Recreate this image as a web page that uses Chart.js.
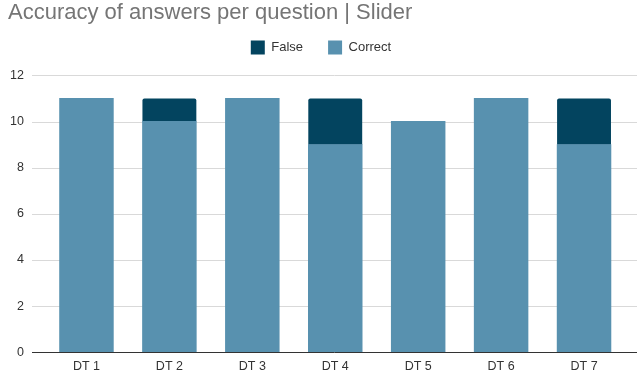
<!DOCTYPE html>
<html>
<head>
<meta charset="utf-8">
<script src="https://cdn.jsdelivr.net/npm/chart.js@4"></script>
<style>
  html, body { margin: 0; padding: 0; background: #fff; }
  #wrap { width: 638px; height: 374px; }
</style>
</head>
<body>
<div id="wrap"><canvas id="myChart"></canvas></div>
<script>
// questions and answer counts
var questions = ['DT 1', 'DT 2', 'DT 3', 'DT 4', 'DT 5', 'DT 6', 'DT 7'];
var correctCounts = [11, 10, 11, 9, 10, 11, 9];
var falseCounts = [0, 1, 0, 2, 0, 0, 2];
var yTicks = [0, 2, 4, 6, 8, 10, 12];

var fontFamily = 'Arial, "Liberation Sans", sans-serif';

// horizontal grid lines run a bit wider than the bar area
var wideGrid = {
  id: 'wideGrid',
  beforeDatasetsDraw: function (chart) {
    var c = chart.ctx, y = chart.scales.y;
    c.save();
    c.lineWidth = 1;
    yTicks.forEach(function (v) {
      if (v === 0) return;
      var py = Math.round(y.getPixelForValue(v)) + 0.5;
      c.strokeStyle = '#d9d9d9';
      c.beginPath(); c.moveTo(32, py); c.lineTo(637, py); c.stroke();
    });
    c.restore();
  },
  afterDatasetsDraw: function (chart) {
    var c = chart.ctx, y = chart.scales.y;
    var py = Math.round(y.getPixelForValue(0)) + 0.5;
    c.save();
    c.strokeStyle = '#333';
    c.lineWidth = 1;
    c.beginPath(); c.moveTo(32, py); c.lineTo(637, py); c.stroke();
    c.restore();
  }
};

// empty axes that only reserve a margin
function spacer(pos, size) {
  var horiz = pos === 'top' || pos === 'bottom';
  return {
    type: horiz ? 'category' : 'linear',
    position: pos,
    display: true,
    afterFit: function (axis) {
      if (horiz) axis.height = size; else axis.width = size;
    },
    grid: { display: false, drawTicks: false },
    border: { display: false },
    ticks: { display: false }
  };
}

var ctx = document.getElementById('myChart').getContext('2d');
var myChart = new Chart(ctx, {
  type: 'bar',
  data: {
    labels: questions,
    datasets: [
      {
        label: 'Correct',
        data: correctCounts,
        backgroundColor: '#5891af',
        inflateAmount: 0.5, // avoids a pale seam under the stacked segment
        barPercentage: 0.645,
        categoryPercentage: 1
      },
      {
        label: 'False',
        data: falseCounts,
        backgroundColor: '#03445f',
        borderRadius: { topLeft: 2, topRight: 2 },
        borderSkipped: 'bottom',
        barPercentage: 0.65,
        categoryPercentage: 1
      }
    ]
  },
  plugins: [wideGrid],
  options: {
    responsive: true,
    maintainAspectRatio: false,
    animation: false,
    layout: { padding: { left: 8, right: 4, top: 0, bottom: 0 } },
    plugins: {
      title: {
        display: true,
        text: 'Accuracy of answers per question | Slider',
        align: 'start',
        color: '#757575',
        font: { family: fontFamily, size: 22, weight: 'normal' },
        padding: { top: 0, bottom: -11 }
      },
      legend: {
        reverse: true,
        labels: {
          color: '#333',
          font: { family: fontFamily, size: 13 },
          boxWidth: 14,
          boxHeight: 14,
          padding: 25
        }
      },
      tooltip: { enabled: false }
    },
    scales: {
      x: {
        stacked: true,
        afterFit: function (axis) { axis.height = 21.7; },
        grid: { display: false, drawTicks: false },
        border: { display: false },
        ticks: { color: '#333', font: { family: fontFamily, size: 12.5 }, padding: 7 }
      },
      y: {
        stacked: true,
        min: 0,
        max: 12,
        afterBuildTicks: function (axis) {
          axis.ticks = yTicks.map(function (v) { return { value: v }; });
        },
        afterFit: function (axis) {
          axis.width = 37;
          axis.paddingTop = 0;
          axis.paddingBottom = 0;
        },
        border: { display: false },
        grid: { display: false, drawTicks: false },
        ticks: { color: '#333', font: { family: fontFamily, size: 12.5 }, padding: 21 }
      },
      xTop: spacer('top', 11),
      yRight: spacer('right', 8.5)
    }
  }
});
</script>
</body>
</html>
